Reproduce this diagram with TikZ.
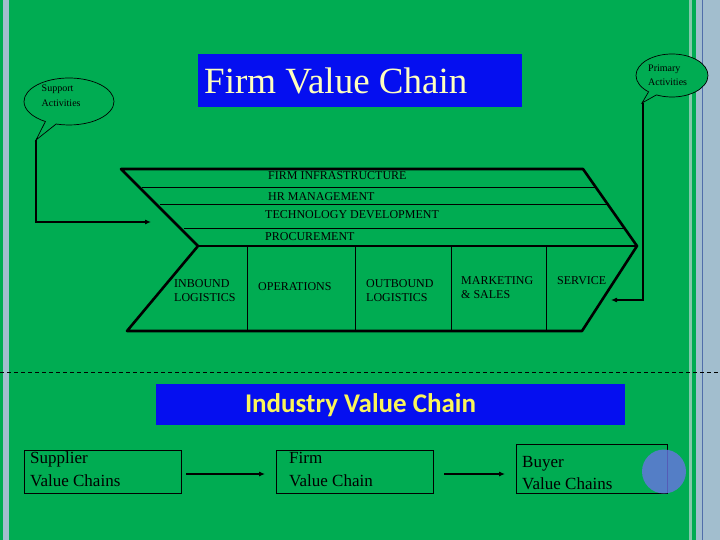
\documentclass[tikz,border=0pt]{standalone}
\usepackage{fontspec}
\setmainfont{Liberation Serif}
\newfontfamily\calib{Carlito}
\usetikzlibrary{shapes.callouts,shapes.geometric,arrows.meta}
\definecolor{bggreen}{RGB}{0,172,82}
\definecolor{boxblue}{RGB}{5,15,240}
\definecolor{stripe}{RGB}{162,190,206}
\definecolor{stripeline}{RGB}{80,110,170}
\definecolor{paleline}{RGB}{130,200,170}
\definecolor{titleyellow}{RGB}{255,255,190}
\definecolor{indyellow}{RGB}{250,245,90}
\definecolor{dotblue}{RGB}{105,115,228}
\tikzset{
  thick line/.style={line width=2.6pt, line cap=round, line join=round},
  thin line/.style={line width=0.9pt},
  actxt/.style={font=\fontsize{12}{14}\selectfont, inner sep=0pt, anchor=west, align=left},
  boxtxt/.style={font=\fontsize{17}{22}\selectfont, inner sep=0pt, anchor=base west},
  chainbox/.style={draw=black, line width=0.8pt},
  conn/.style={line width=1.1pt, -{Latex[length=6pt,width=5pt]}},
  callout/.style={ellipse callout, draw=black, line width=0.7pt, fill=bggreen, inner sep=0pt},
  calltxt/.style={font=\fontsize{10}{14}\selectfont, inner sep=0pt, anchor=base west}
}
\begin{document}
\begin{tikzpicture}[x=1pt,y=-1pt]
\useasboundingbox (0,0) rectangle (720,540);
% background
\fill[bggreen] (0,0) rectangle (720,540);
\fill[stripe] (2.7,0) rectangle (9,540);
\fill[paleline] (689,0) rectangle (692,540);
\fill[stripe] (696,0) rectangle (720,540);
\fill[stripeline] (701.7,0) rectangle (702.8,540);

% Firm Value Chain title
\node[fill=boxblue, minimum width=324pt, minimum height=53pt, inner sep=0pt] (ftitle) at (360,80.5) {};
\node[font=\fontsize{37}{40}\selectfont, text=titleyellow, anchor=west, inner sep=0pt] (ftitletxt) at (204,81) {Firm Value Chain};

% callouts
\node[callout, minimum width=90pt, minimum height=47pt, callout absolute pointer={(36,140)}] (sup) at (69,101.5) {};
\node[calltxt] (suptxt1) at (41.5,91.5) {Support};
\node[calltxt] (suptxt2) at (41.5,106.5) {Activities};
\node[callout, minimum width=72pt, minimum height=43pt, callout absolute pointer={(642,103)}] (prim) at (672,75.5) {};
\node[calltxt] (primtxt1) at (648,71.5) {Primary};
\node[calltxt] (primtxt2) at (648,86) {Activities};

% callout connectors
\coordinate (s1) at (36,140);
\coordinate (s2) at (36,222);
\coordinate (s3) at (151,222);
\draw[conn] (s1) -- (s2) -- (s3);
\coordinate (p1) at (643,103);
\coordinate (p2) at (643,300);
\coordinate (p3) at (611,300);
\draw[conn] (p1) -- (p2) -- (p3);

% chevron
\coordinate (tl) at (121,169);
\coordinate (tr) at (583,169);
\coordinate (tip) at (637,246);
\coordinate (br) at (582,331);
\coordinate (bl) at (127,331);
\coordinate (notch) at (198,246);
\draw[thin line] (142,187) -- (596,187);
\draw[thin line] (160,204) -- (608,204);
\draw[thin line] (184,228) -- (624,228);
\foreach \x in {247,355,451,546} {
  \draw[thin line] (\x,246) -- (\x,331);
}
\draw[thick line] (tl) -- (tr) -- (tip) -- (br) -- (bl) -- (notch) -- cycle;
\draw[thick line] (notch) -- (tip);

% support activity labels
\node[actxt] (fi) at (268,176) {FIRM INFRASTRUCTURE};
\node[actxt] (hr) at (268,197) {HR MANAGEMENT};
\node[actxt] (td) at (265,215) {TECHNOLOGY DEVELOPMENT};
\node[actxt] (pr) at (265,236.5) {PROCUREMENT};

% primary activity labels
\node[actxt] (ib) at (174,291) {INBOUND\\LOGISTICS};
\node[actxt] (op) at (258,287) {OPERATIONS};
\node[actxt] (ob) at (366,291) {OUTBOUND\\LOGISTICS};
\node[actxt] (ms) at (461,288) {MARKETING\\\& SALES};
\node[actxt] (sv) at (557,281) {SERVICE};

% dashed separator
\coordinate (dl) at (0,372);
\coordinate (dr) at (720,372);
\draw[line width=0.7pt, dash pattern=on 4pt off 3pt] (dl) -- (dr);

% Industry Value Chain title
\node[fill=boxblue, minimum width=469pt, minimum height=41pt, inner sep=0pt] (ititle) at (390.5,404.5) {};
\node[font=\calib\bfseries\fontsize{27}{30}\selectfont, text=indyellow, inner sep=0pt] (ititletxt) at (360.5,405) {Industry Value Chain};

% industry value chain boxes
\draw[chainbox] (24,450) rectangle (181,493);
\node[boxtxt] (suptext1) at (30,463) {Supplier};
\node[boxtxt] (suptext2) at (30,486) {Value Chains};
\draw[chainbox] (276,450) rectangle (433,493);
\node[boxtxt] (firmtext1) at (289,463) {Firm};
\node[boxtxt] (firmtext2) at (289,486) {Value Chain};
\draw[chainbox] (516,444) rectangle (667,493);
\node[boxtxt] (buytext1) at (522,467) {Buyer};
\node[boxtxt] (buytext2) at (522,489) {Value Chains};
\coordinate (a1s) at (186,474);
\coordinate (a1e) at (265,474);
\draw[conn] (a1s) -- (a1e);
\coordinate (a2s) at (444,474);
\coordinate (a2e) at (505,474);
\draw[conn] (a2s) -- (a2e);

% decorative circle
\fill[dotblue, opacity=0.8] (664,471.5) circle (22pt);
\end{tikzpicture}
\end{document}
